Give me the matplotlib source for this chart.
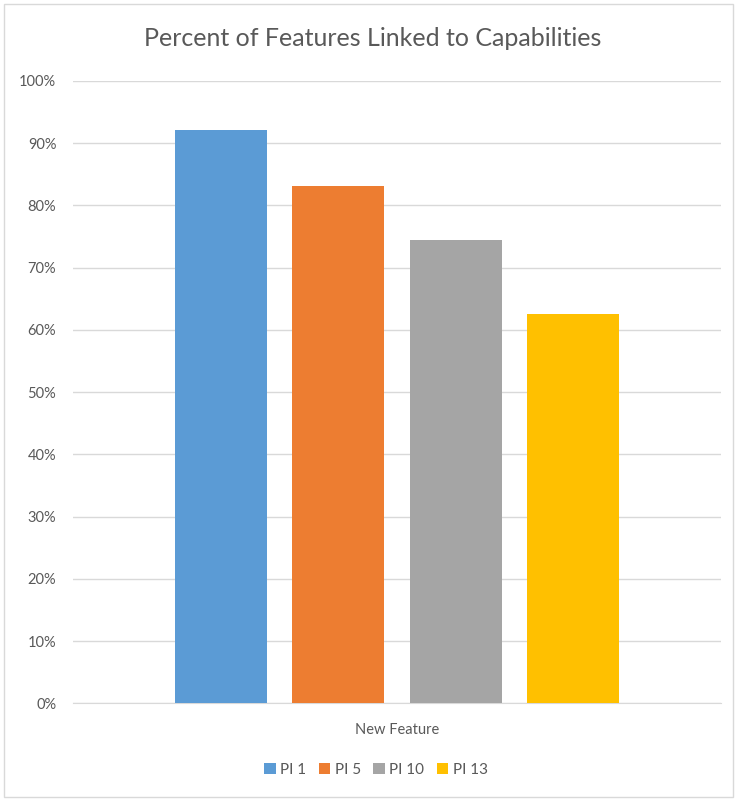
import matplotlib
matplotlib.use('Agg')
import matplotlib.pyplot as plt
from matplotlib.patches import Rectangle
from matplotlib.ticker import PercentFormatter

category = 'New Feature'
series = ['PI 1', 'PI 5', 'PI 10', 'PI 13']
values = [0.922, 0.832, 0.744, 0.626]
colors = ['#5b9bd5', '#ed7d31', '#a5a5a5', '#ffc000']

plt.rcParams['font.family'] = ['Lato', 'DejaVu Sans']
txt = '#595959'

fig = plt.figure(figsize=(7.38, 8.01), dpi=100)
ax = fig.add_axes([73 / 738, 1 - 703.3 / 801, 648 / 738, 622.3 / 801])

step = 117.3 / 648
width = 92 / 648
for i, (name, v, c) in enumerate(zip(series, values, colors)):
    ax.bar((i - 1.5) * step, v, width, color=c, label=name, zorder=3)

ax.set_xlim(-0.5, 0.5)
ax.set_ylim(0, 1)
ax.set_yticks([i / 10 for i in range(11)])
ax.yaxis.set_major_formatter(PercentFormatter(1.0, decimals=0))
ax.grid(axis='y', color='#d9d9d9', linewidth=1, zorder=0)
for s in ['top', 'right', 'left']:
    ax.spines[s].set_visible(False)
ax.spines['bottom'].set_color('#d9d9d9')
ax.tick_params(axis='y', length=0, pad=12, labelsize=10.5, labelcolor=txt)
ax.set_xticks([0])
ax.set_xticklabels([category])
ax.tick_params(axis='x', length=0, pad=14, labelsize=10.5, labelcolor=txt)

fig.text(373 / 738, 1 - 38 / 801, 'Percent of Features Linked to Capabilities',
         ha='center', va='center', fontsize=18, color=txt)

ax.legend(loc='center', bbox_to_anchor=(376 / 738, 1 - 770 / 801),
          bbox_transform=fig.transFigure, ncol=4, frameon=False,
          fontsize=11, labelcolor=txt, handlelength=0.75, handleheight=0.75,
          handletextpad=0.3, columnspacing=0.8)

fig.patches.append(Rectangle((4 / 738, 4 / 801), 729 / 738, 793 / 801,
                             transform=fig.transFigure, fill=False,
                             edgecolor='#d9d9d9', linewidth=1))

plt.savefig('out.png', dpi=100)
